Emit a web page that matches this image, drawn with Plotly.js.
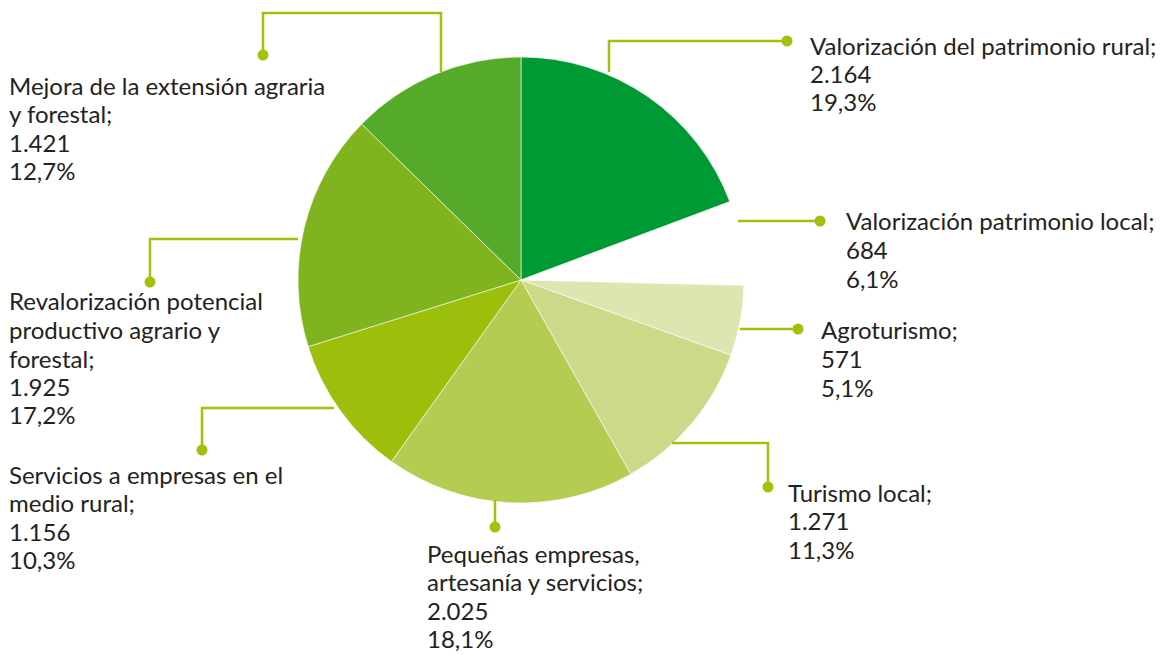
<!DOCTYPE html>
<html><head><meta charset="utf-8">
<script src="https://cdn.plot.ly/plotly-3.0.1.min.js"></script>
<style>html,body{margin:0;padding:0;background:#fff}#chart{width:1164px;height:655px}</style>
</head><body><div id="chart"></div>
<script>
// ---- data ----
const categories = [
  "Valorización del patrimonio rural;",
  "Valorización patrimonio local;",
  "Agroturismo;",
  "Turismo local;",
  "Pequeñas empresas,<br>artesanía y servicios;",
  "Servicios a empresas en el<br>medio rural;",
  "Revalorización potencial<br>productivo agrario y<br>forestal;",
  "Mejora de la extensión agraria<br>y forestal;"
];
const values = [2164, 684, 571, 1271, 2025, 1156, 1925, 1421];
const percentLabels = ["19,3%", "6,1%", "5,1%", "11,3%", "18,1%", "10,3%", "17,2%", "12,7%"];
const sliceColors = ["#009a35", "#ffffff", "#dbe6b0", "#cbd988", "#b3cd53", "#9bbf0a", "#80b41f", "#56aa2a"];

// ---- layout helpers (pixel -> paper) ----
const W = 1164, H = 655;
const X = px => px / W;
const Y = py => 1 - py / H;
const fmt = v => v.toString().replace(/\B(?=(\d{3})+(?!\d))/g, ".");

// label placement: text left, first-line centre, leader path, dot
const labelPos = [
  {tx: 809, ty: 45, path: [[609, 72], [609, 41], [787, 41]], dot: [787, 41]},
  {tx: 845, ty: 221, path: [[738, 221], [820, 221]], dot: [820, 221]},
  {tx: 820, ty: 330, path: [[740, 329], [798, 329]], dot: [798, 329]},
  {tx: 787, ty: 492, path: [[672, 443], [768, 443], [768, 487]], dot: [768, 487]},
  {tx: 426, ty: 553, path: [[495, 500], [495, 527]], dot: [495, 527]},
  {tx: 8, ty: 474, path: [[334, 408], [202, 408], [202, 450]], dot: [202, 450]},
  {tx: 8, ty: 301, path: [[298, 239], [150, 239], [150, 282]], dot: [150, 282]},
  {tx: 8, ty: 85, path: [[441, 72], [441, 13], [263, 13], [263, 55]], dot: [263, 55]}
];
const lineStep = 28.5;

const lineColor = "#9fc30b";
const shapes = [];
const annotations = [];
labelPos.forEach((p, i) => {
  const d = p.path.map((pt, k) => (k ? "L" : "M") + X(pt[0]) + "," + Y(pt[1])).join(" ");
  shapes.push({type: "path", xref: "paper", yref: "paper", path: d, line: {color: lineColor, width: 2.5}});
  const r = 5.5;
  shapes.push({type: "circle", xref: "paper", yref: "paper",
    x0: X(p.dot[0] - r), x1: X(p.dot[0] + r), y0: Y(p.dot[1] + r), y1: Y(p.dot[1] - r),
    fillcolor: lineColor, line: {width: 0}});
  const lines = categories[i].split("<br>").concat([fmt(values[i]), percentLabels[i]]);
  lines.forEach((t, k) => {
    annotations.push({
      xref: "paper", yref: "paper", x: X(p.tx), y: Y(p.ty + k * lineStep),
      xanchor: "left", yanchor: "middle", align: "left", showarrow: false, borderpad: 0,
      text: t,
      font: {family: "Lato, 'Noto Sans', sans-serif", size: 24, color: "#222222"}
    });
  });
});

const cx = 521, cy = 280, rad = 223;
const trace = {
  type: "pie",
  values: values,
  labels: categories,
  sort: false,
  direction: "clockwise",
  rotation: 0,
  textinfo: "none",
  hoverinfo: "none",
  marker: {colors: sliceColors, line: {color: "#ffffff", width: 0.6}},
  domain: {x: [X(cx - rad), X(cx + rad)], y: [Y(cy + rad), Y(cy - rad)]},
  showlegend: false
};

Plotly.newPlot("chart", [trace], {
  width: W, height: H,
  margin: {l: 0, r: 0, t: 0, b: 0},
  paper_bgcolor: "#ffffff",
  showlegend: false,
  shapes: shapes,
  annotations: annotations
}, {displayModeBar: false, staticPlot: true});
</script></body></html>
